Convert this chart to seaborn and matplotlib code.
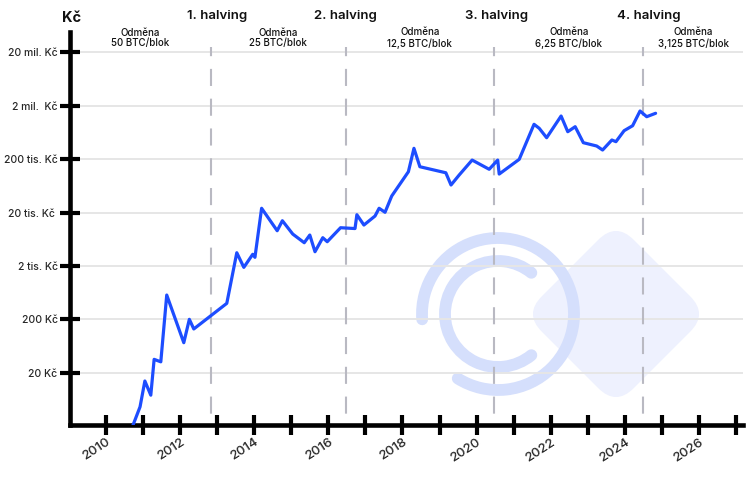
import matplotlib
matplotlib.use("Agg")
import numpy as np
import pandas as pd
import matplotlib.pyplot as plt
import seaborn as sns
from matplotlib.patches import Arc, FancyBboxPatch
from matplotlib.transforms import Affine2D, blended_transform_factory

# --- data ---
years = [2010.72, 2010.92, 2011.05, 2011.21, 2011.30, 2011.48, 2011.64, 2012.10,
         2012.25, 2012.37, 2013.26, 2013.53, 2013.72, 2013.96, 2014.02, 2014.20,
         2014.62, 2014.76, 2015.04, 2015.35, 2015.50, 2015.64, 2015.85, 2015.97,
         2016.33, 2016.72, 2016.77, 2016.96, 2017.26, 2017.37, 2017.53, 2017.71,
         2018.16, 2018.31, 2018.47, 2019.17, 2019.31, 2019.53, 2019.88, 2020.34,
         2020.57, 2020.61, 2021.15, 2021.55, 2021.69, 2021.89, 2022.28, 2022.46,
         2022.66, 2022.88, 2023.24, 2023.40, 2023.65, 2023.76, 2023.98, 2024.21,
         2024.41, 2024.59, 2024.83]
prices_czk = [2.0, 4.6, 14.0, 7.6, 35.6, 32, 570, 73,
              200, 132, 398, 3530, 1880, 3300, 2900, 24000,
              9120, 14040, 7900, 5440, 7580, 3690, 6750, 5680,
              10380, 10020, 18180, 11660, 17200, 24000, 20200, 40700,
              116000, 318600, 144000, 111000, 65500, 100700, 192000, 129000,
              192000, 105000, 198000, 897000, 755000, 503000, 1283000, 652000,
              809000, 406000, 352000, 296000, 456000, 424000, 681000, 844000,
              1592000, 1245000, 1442000]

halving_years = [2012.83, 2016.47, 2020.47, 2024.50]
halving_labels = ["1. halving", "2. halving", "3. halving", "4. halving"]
reward_labels = ["Odměna\n50 BTC/blok", "Odměna\n25 BTC/blok", "Odměna\n12,5 BTC/blok",
                 "Odměna\n6,25 BTC/blok", "Odměna\n3,125 BTC/blok"]

y_tick_values = [20, 200, 2000, 20000, 200000, 2000000, 20000000]
y_tick_labels = ["20 Kč", "200 Kč", "2 tis. Kč", "20 tis. Kč ", "200 tis. Kč",
                 "2 mil.  Kč", "20 mil. Kč"]
x_tick_years = [2010, 2011, 2012, 2013, 2014, 2015, 2016, 2017, 2018,
                2019, 2020, 2021, 2022, 2023, 2024, 2025, 2026, 2027]

XMIN, XMAX = 2009.03, 2027.18
YMIN, YMAX = 2.1, 48e6

sns.set_theme(style="white")
plt.rcParams["font.family"] = ["Inter", "DejaVu Sans"]

df = pd.DataFrame({"year": years, "price": prices_czk})

fig = plt.figure(figsize=(7.5, 5), dpi=100)

# watermark logo in the background (pixel coordinates, y up)
wm = fig.add_axes([0, 0, 1, 1], zorder=0)
wm.set_xlim(0, 750)
wm.set_ylim(0, 500)
wm.axis("off")
cx, cy = 616, 186
diamond = FancyBboxPatch((cx - 65, cy - 65), 130, 130,
                         boxstyle="round,pad=0,rounding_size=25",
                         facecolor="#eef1fe", edgecolor="none",
                         transform=Affine2D().rotate_deg_around(cx, cy, 45) + wm.transData)
wm.add_patch(diamond)
outer = Arc((498, 186), 152, 152, theta1=238, theta2=184,
            color="#d5dffc", lw=8.5, capstyle="round")
inner = Arc((498, 186), 106, 106, theta1=51, theta2=309,
            color="#d5dffc", lw=8.5, capstyle="round")
wm.add_patch(outer)
wm.add_patch(inner)

ax = fig.add_axes([70 / 750, 75 / 500, 672.7 / 750, 393 / 500], zorder=1)
ax.patch.set_alpha(0)
ax.set_axisbelow(False)

sns.lineplot(data=df, x="year", y="price", ax=ax, color="#1d4dff",
             linewidth=2.3, zorder=5)
ax.set_yscale("log")
ax.set_xlim(XMIN, XMAX)
ax.set_ylim(YMIN, YMAX)

# horizontal grid
for v in y_tick_values:
    ax.axhline(v, color="#e6e6e6", linewidth=1.4, zorder=1)

# halving dashed lines
xt = ax.get_xaxis_transform()
for h in halving_years:
    ax.plot([h, h], [0.962, 0.0], transform=xt, color="#b9b9c2", linewidth=1.5,
            linestyle=(3.8, (8.2, 6.1)), zorder=2, solid_capstyle="butt")

ax.set_yticks(y_tick_values)
ax.set_yticklabels(y_tick_labels)
ax.set_xticks(x_tick_years)
ax.set_xticklabels([str(y) if y % 2 == 0 else "" for y in x_tick_years])
ax.minorticks_off()

for side in ["top", "right"]:
    ax.spines[side].set_visible(False)
for side in ["left", "bottom"]:
    ax.spines[side].set_color("black")
    ax.spines[side].set_linewidth(3.3)

ax.tick_params(axis="both", which="major", bottom=True, left=True,
               direction="inout", length=14, width=3, color="black")
ax.tick_params(axis="y", labelsize=7.5, pad=2)
ax.tick_params(axis="x", labelsize=9.5, pad=1)
for lab in ax.get_yticklabels():
    lab.set_fontweight("medium")
for lab in ax.get_xticklabels():
    lab.set_rotation(33)
    lab.set_ha("right")
    lab.set_rotation_mode("anchor")
    lab.set_fontweight("medium")
ax.set_xlabel("")
ax.set_ylabel("")

# texts above the plot
ft = blended_transform_factory(ax.transData, fig.transFigure)
label_x = [2012.99, 2016.46, 2020.54, 2024.65]
for x, t in zip(label_x, halving_labels):
    ax.text(x, 1 - 16 / 500, t, transform=ft, ha="center", va="center",
            fontsize=9.5, fontweight="semibold", color="#111111")

edges = [XMIN] + halving_years + [XMAX]
for i, t in enumerate(reward_labels):
    mid = (edges[i] + edges[i + 1]) / 2
    ax.text(mid, 1 - 38 / 500, t, transform=ft, ha="center", va="center",
            fontsize=7, fontweight="medium", linespacing=1.1, color="#111111")

fig.text(71.7 / 750, 1 - 18 / 500, "Kč", ha="center", va="center",
         fontsize=10.5, fontweight="bold", color="#111111")

fig.savefig("out.png", dpi=100)
